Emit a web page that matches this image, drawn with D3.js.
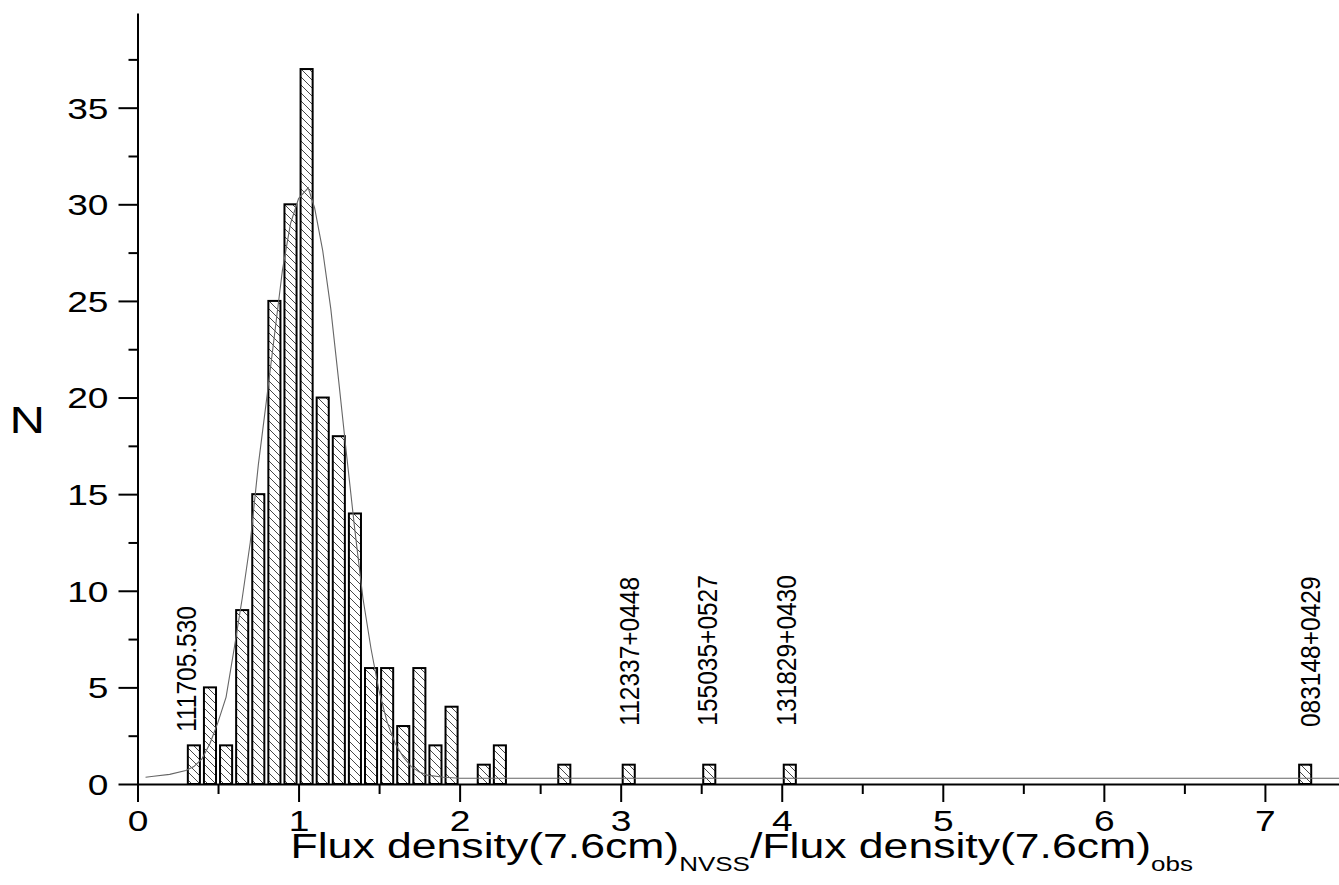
<!DOCTYPE html>
<html><head><meta charset="utf-8">
<script src="https://cdn.jsdelivr.net/npm/d3@7"></script>
<style>html,body{margin:0;padding:0;background:#fff;} svg{display:block;}</style>
</head><body>
<svg id="chart" width="1339" height="885"></svg>
<script>
// ---- data ----
const binStarts = [0.3,0.4,0.5,0.6,0.7,0.8,0.9,1.0,1.1,1.2,1.3,1.4,1.5,1.6,1.7,1.8,1.9,2.1,2.2,2.6,3.0,3.5,4.0,7.2];
const counts    = [2,  5,  2,  9,  15, 25, 30, 37, 20, 18, 14, 6,  6,  3,  6,  2,  4,  1,  2,  1,  1,  1,  1,  1];
const fitX = [0.05,0.1,0.2,0.3,0.35,0.4,0.45,0.5,0.55,0.6,0.65,0.7,0.75,0.8,0.85,0.9,0.95,1.0,1.06,1.1,1.15,1.2,1.25,1.3,1.35,1.4,1.45,1.5,1.55,1.6,1.65,1.7,1.75,1.8,1.9,2.0,7.46];
const fitN = [0.35,0.4,0.5,0.7,0.9,1.3,2.1,3.2,4.5,7.0,9.6,12.5,16.5,19.8,23.2,26.6,29.0,30.3,30.85,29.8,27.6,24.6,20.8,16.9,13.1,9.6,7.0,4.8,3.2,2.1,1.4,0.9,0.62,0.46,0.35,0.3,0.3];
const labelNames = ["111705.530","112337+0448","155035+0527","131829+0430","083148+0429"];
const labelX = [0.30,3.05,3.54,4.03,7.28];
const labelN = [2.7,3.02,3.02,3.02,2.95];
const xTicks = [0,1,2,3,4,5,6,7];
const xMinorTicks = [0.5,1.5,2.5,3.5,4.5,5.5,6.5];
const yTicks = [0,5,10,15,20,25,30,35];
const yMinorTicks = [2.5,7.5,12.5,17.5,22.5,27.5,32.5,37.5];
const yTitle = "N";

// ---- drawing ----
const svg = d3.select('#chart');
const FONT = "'Liberation Sans', Arial, Helvetica, sans-serif";
const x = d3.scaleLinear().domain([0, 7.46]).range([137.5, 1339]);
const y = d3.scaleLinear().domain([0, 39.9]).range([784, 13]);

const defs = svg.append('defs');
const pat = defs.append('pattern').attr('id','hatch').attr('patternUnits','userSpaceOnUse')
  .attr('width',8).attr('height',8);
pat.append('rect').attr('width',8).attr('height',8).attr('fill','#fff');
pat.append('path').attr('d','M-1,-1L9,9M-1,7L1,9M7,-1L9,1').attr('stroke','#333').attr('stroke-width',0.9);

const binW = 0.1, barFrac = 0.75;
svg.append('g').selectAll('rect')
  .data(binStarts.map((b,i)=>({b, n:counts[i]})))
  .join('rect')
  .attr('x', d => x(d.b + binW*(1-barFrac)/2))
  .attr('width', d => x(d.b + binW*(1+barFrac)/2) - x(d.b + binW*(1-barFrac)/2))
  .attr('y', d => y(d.n))
  .attr('height', d => y(0) - y(d.n))
  .attr('fill','url(#hatch)')
  .attr('stroke','#000').attr('stroke-width',2);

// fit curve
const line = d3.line().x(d=>x(d[0])).y(d=>y(d[1]));
svg.append('path').datum(fitX.map((v,i)=>[v, fitN[i]]))
  .attr('d', line).attr('fill','none').attr('stroke','#666').attr('stroke-width',1.1);

// axes
const gy = svg.append('g').attr('transform',`translate(${x(0)},0)`)
  .style('font-family', FONT).style('font-size','29px')
  .call(d3.axisLeft(y).tickValues(yTicks).tickSize(19).tickSizeOuter(0).tickFormat(d3.format('d')));
const gyMinor = svg.append('g').attr('transform',`translate(${x(0)},0)`)
  .call(d3.axisLeft(y).tickValues(yMinorTicks).tickSize(9).tickSizeOuter(0).tickFormat(''));
gyMinor.select('.domain').remove();

const gx = svg.append('g').attr('transform',`translate(0,${y(0)})`)
  .style('font-family', FONT).style('font-size','29px')
  .call(d3.axisBottom(x).tickValues(xTicks).tickSize(18).tickSizeOuter(0).tickFormat(d3.format('d')));
const gxMinor = svg.append('g').attr('transform',`translate(0,${y(0)})`)
  .call(d3.axisBottom(x).tickValues(xMinorTicks).tickSize(10).tickSizeOuter(0).tickFormat(''));
gxMinor.select('.domain').remove();

svg.selectAll('.domain').attr('stroke','#000').attr('stroke-width',2);
svg.selectAll('.tick line').attr('stroke','#000').attr('stroke-width',2);
gy.selectAll('.tick text').attr('x',0).attr('dy',null).attr('fill','#000')
  .attr('transform','translate(-29,10.4) scale(1.28,1)');
gx.selectAll('.tick text').attr('y',0).attr('dy',null).attr('fill','#000')
  .attr('transform','translate(0,47) scale(1.28,1)');

// y title
svg.append('text').attr('transform','translate(27.2,433) scale(1.33,1)')
  .attr('text-anchor','middle').style('font-family',FONT).style('font-size','37px').text(yTitle);

// x title with subscripts
const xt = svg.append('text').attr('text-anchor','start')
  .style('font-family',FONT).style('font-size','36px');
xt.append('tspan').text('Flux density(7.6cm)');
xt.append('tspan').attr('dy',13).style('font-size','21px').text('NVSS');
xt.append('tspan').attr('dy',-13).text('/Flux density(7.6cm)');
xt.append('tspan').attr('dy',13).style('font-size','21px').text('obs');
const bw = xt.node().getComputedTextLength();
const sx = (1193 - 290.5) / bw;
xt.attr('transform',`translate(290.5,858) scale(${sx},1)`);

// source labels
svg.append('g').selectAll('text')
  .data(labelNames.map((t,i)=>({t, lx:labelX[i], ln:labelN[i]})))
  .join('text')
  .attr('transform', d => `translate(${x(d.lx)},${y(d.ln)}) scale(1.12,1) rotate(-90)`)
  .attr('dy','0.358em')
  .style('font-family',FONT).style('font-size','24.5px')
  .text(d => d.t);
</script>
</body></html>
